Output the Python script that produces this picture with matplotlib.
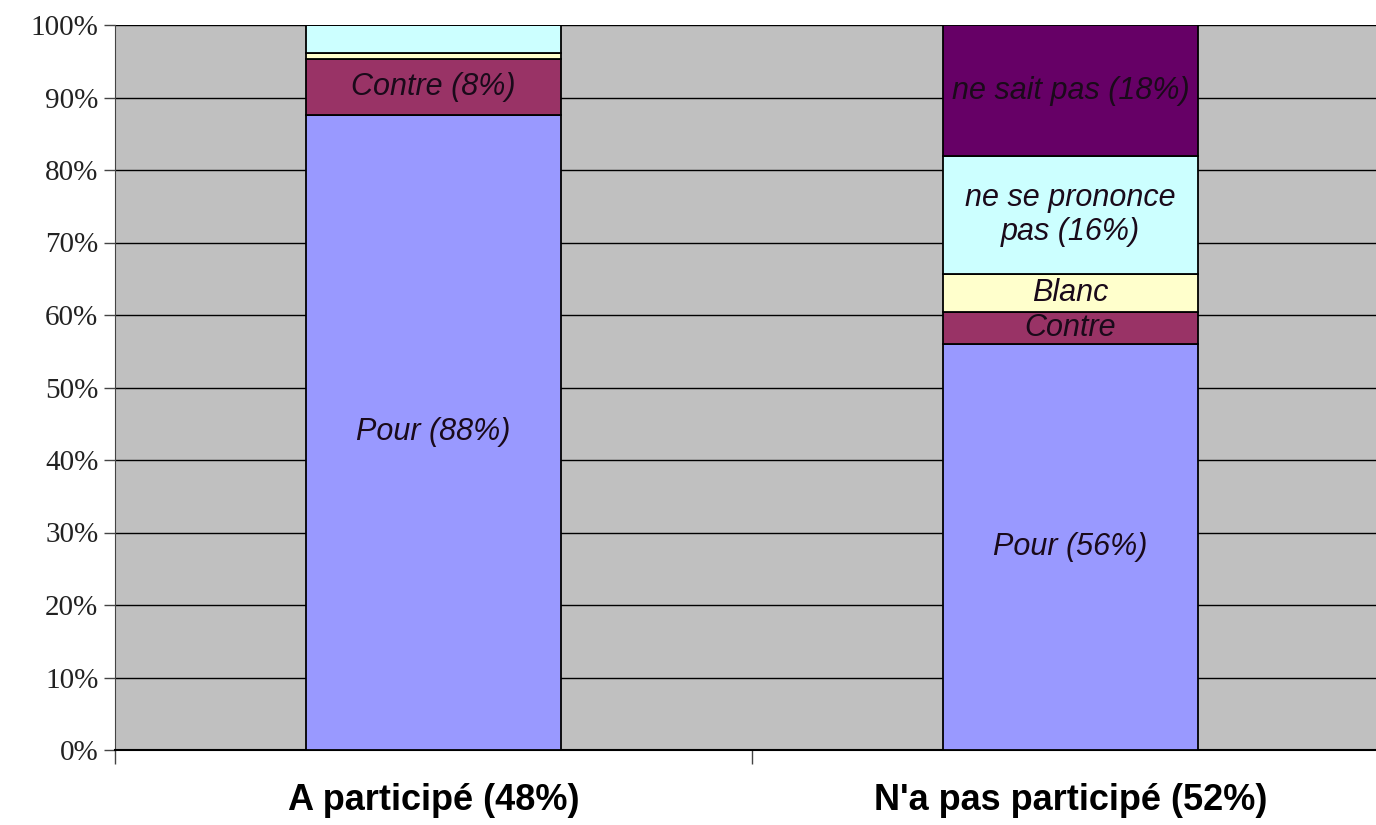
import numpy as np
from matplotlib import pyplot as plt

# DATA
categories = ['A participé (48%)', "N'a pas participé (52%)"]
series_names = ['Pour', 'Contre', 'Blanc', 'ne se prononce pas', 'ne sait pas']
pour = [87.6, 56.0]
contre = [7.7, 4.4]
blanc = [0.8, 5.3]
ne_se_prononce = [3.9, 16.2]
ne_sait_pas = [0.0, 18.1]
y_ticks = [0, 10, 20, 30, 40, 50, 60, 70, 80, 90, 100]

# segment labels: (category index, series index, text)
segment_labels = [
    (0, 0, 'Pour (88%)'),
    (0, 1, 'Contre (8%)'),
    (1, 0, 'Pour (56%)'),
    (1, 1, 'Contre'),
    (1, 2, 'Blanc'),
    (1, 3, 'ne se prononce\npas (16%)'),
    (1, 4, 'ne sait pas (18%)'),
]

COLORS = ['#9999FF', '#993366', '#FFFFCC', '#CCFFFF', '#660066']


def main():
    fig = plt.figure(figsize=(13.76, 8.25), dpi=100)
    ax = fig.add_axes([115 / 1376, 75 / 825, 1274 / 1376, 725 / 825])
    ax.set_facecolor('#C0C0C0')

    series = [pour, contre, blanc, ne_se_prononce, ne_sait_pas]
    x = np.arange(len(categories))
    bottom = np.zeros(len(categories))
    bottoms = []
    for values, color, name in zip(series, COLORS, series_names):
        bottoms.append(bottom.copy())
        ax.bar(x, values, width=0.4, bottom=bottom, color=color,
               edgecolor='black', linewidth=1.3, label=name, zorder=3)
        bottom = bottom + np.array(values)

    for cat, ser, text in segment_labels:
        y = bottoms[ser][cat] + series[ser][cat] / 2
        ax.text(x[cat], y, text, ha='center', va='center', fontsize=22,
                style='italic', family='Liberation Sans', color='#1a0a1a',
                zorder=4, linespacing=1.15)

    ax.set_xlim(-0.5, 1.5)
    ax.set_ylim(0, 100)
    ax.set_yticks(y_ticks)
    ax.set_yticklabels(['%d%%' % v for v in y_ticks], family='Liberation Serif',
                       fontsize=21, color='#222222')
    ax.yaxis.grid(True, color='black', linewidth=1.0, zorder=1)
    ax.set_axisbelow(True)

    ax.set_xticks([-0.5, 0.5, 1.5])
    ax.set_xticklabels([])
    ax.set_xticks(x, minor=True)
    ax.set_xticklabels(categories, minor=True, fontsize=26, fontweight='bold',
                       family='Liberation Sans')
    ax.tick_params(axis='x', which='minor', length=0, pad=24)
    ax.tick_params(axis='x', which='major', length=10, width=1, color='#444444')
    ax.tick_params(axis='y', length=8, width=1, color='#444444', pad=4)

    for side in ['top', 'right']:
        ax.spines[side].set_visible(False)
    ax.spines['left'].set_color('#444444')
    ax.spines['bottom'].set_color('black')
    ax.spines['bottom'].set_linewidth(1.5)

    fig.savefig('out.png', dpi=100, facecolor='white')

    return


if __name__ == '__main__':
    main()
